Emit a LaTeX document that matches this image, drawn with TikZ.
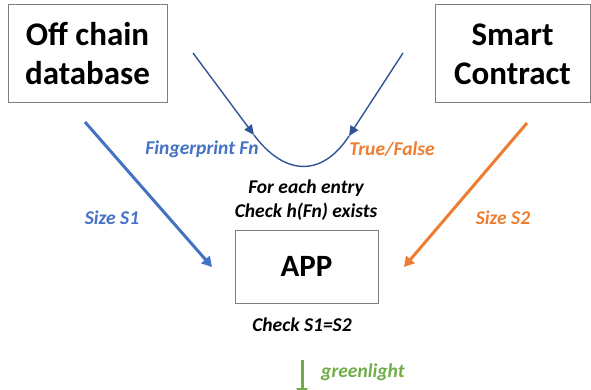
\documentclass[tikz,border=0pt]{standalone}
\usepackage{fontspec}
\setmainfont{Carlito}
\usetikzlibrary{arrows.meta, positioning}
\definecolor{msblue}{HTML}{4472C4}
\definecolor{darkblue}{HTML}{2F5597}
\definecolor{msorange}{HTML}{ED7D31}
\definecolor{msgreen}{HTML}{70AD47}
\definecolor{boxgray}{HTML}{7F7F7F}
\tikzstyle{party} = [rectangle, draw=boxgray, line width=1pt, align=center, font=\fontsize{33}{39}\selectfont\bfseries]
\tikzstyle{note} = [font=\fontsize{19.5}{24}\selectfont\bfseries\itshape, align=center, inner sep=0pt]
\tikzstyle{bigarrow} = [line width=3pt, -{Triangle[length=10pt,width=11pt]}]
\tikzstyle{thinarrow} = [line width=1.4pt, darkblue, -{Triangle[length=10pt,width=9pt]}]

\begin{document}
\begin{tikzpicture}[x=1pt, y=-1pt]
\useasboundingbox (0,0) rectangle (591,390);

% the three parties
\node (offchain) [party, minimum width=159pt, minimum height=98pt] at (87.5,54) {Off chain\\database};
\node (contract) [party, minimum width=155pt, minimum height=98pt] at (512.5,54) {Smart\\Contract};
\node (app) [party, minimum width=143pt, minimum height=73pt, font=\fontsize{31}{36}\selectfont\bfseries] at (306.5,266.5) {APP};

% sizes sent to the app
\coordinate (s1start) at (85,122);
\coordinate (s1end) at (212,267);
\coordinate (s2start) at (527,123);
\coordinate (s2end) at (404,267);
\draw[bigarrow, msblue] (s1start) -- (s1end);
\draw[bigarrow, msorange] (s2start) -- (s2end);
\node (s1) [note, msblue] at (112,218) {Size S1};
\node (s2) [note, msorange] at (503,218) {Size S2};

% fingerprint lookup
\coordinate (vleft) at (193,53);
\coordinate (vlhead) at (254,135);
\coordinate (vrhead) at (349,136);
\coordinate (vright) at (403,53);
\draw[thinarrow] (vleft) -- (vlhead);
\draw[thinarrow] (vright) -- (vrhead);
\draw[line width=1.4pt, darkblue] (vlhead) .. controls (284.5,176) and (322,177.5) .. (vrhead);
\node (fp) [note, msblue] at (202,149) {Fingerprint Fn};
\node (tf) [note, msorange] at (392,149) {True/False};
\node (lookup) [note] at (306,200) {For each entry\\Check h(Fn) exists};

% result
\node (checksize) [note] at (302,325) {Check S1=S2};
\coordinate (gstart) at (302,360);
\coordinate (gend) at (302,398);
\draw[bigarrow, msgreen] (gstart) -- (gend);
\node (green) [note, msgreen, anchor=west] at (321,372) {greenlight};

\end{tikzpicture}
\end{document}
